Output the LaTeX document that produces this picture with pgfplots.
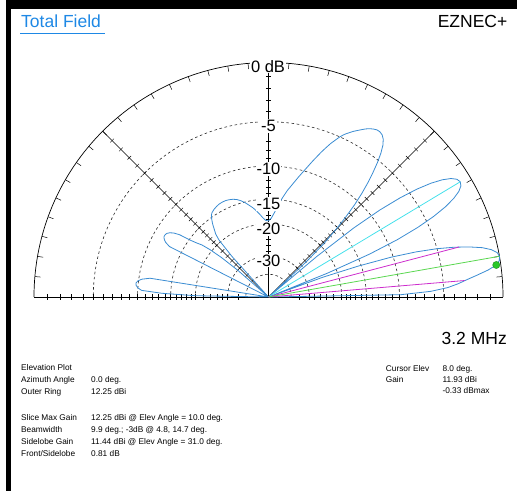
\documentclass[border=0pt]{standalone}
\usepackage{fontspec}
\setmainfont{Liberation Sans}
\usepackage{pgfplots}
\usepackage{pgfplotstable}
\pgfplotsset{compat=1.18}
\definecolor{pat}{RGB}{58,140,210}
\definecolor{ttl}{RGB}{30,136,229}
\definecolor{cyanl}{RGB}{70,225,235}
\definecolor{mag}{RGB}{205,45,205}
\definecolor{grn}{RGB}{90,215,80}
\definecolor{dotc}{RGB}{40,200,40}
\definecolor{ringc}{RGB}{40,40,40}

\pgfplotstableread{
a db
0 -99
1 -9.8
2 -6.3
3 -4.6
4 -3.6
5 -2.8
6 -1.9
7 -1.0
8 -0.33
9 -0.06
10 0
11 -0.12
12 -0.5
13 -1.15
14 -2.15
15 -3.4
16 -5.0
17 -7.2
18 -10.3
19 -15.5
20 -24
21 -99
22 -22.5
23 -13.0
24 -8.7
25 -6.05
26 -4.2
27 -2.87
28 -1.93
29 -1.29
30 -0.93
31 -0.81
32 -0.93
33 -1.29
34 -1.93
35 -2.87
36 -4.2
37 -6.05
38 -8.7
39 -13.0
40 -22.5
41 -99
42 -99
43 -26
44 -19
45 -15.5
46 -12.8
47 -10.6
48 -8.9
49 -7.5
50 -6.3
51 -5.2
52 -4.3
53 -3.6
54 -3.15
55 -2.9
56 -2.8
57 -2.8
58 -2.9
59 -3.05
60 -3.25
61 -3.5
62 -3.75
63 -4.0
64 -4.3
65 -4.6
66 -5.0
67 -5.5
68 -6.0
69 -6.6
70 -7.2
72 -8.5
74 -9.8
76 -11.0
78 -12.2
80 -13.3
82 -14.6
84 -16.0
86 -17.5
88 -18.7
90 -19.3
92 -19.2
94 -18.6
96 -17.8
98 -17.0
100 -16.3
102 -15.7
104 -15.1
106 -14.6
108 -14.2
110 -13.95
112 -13.8
114 -13.7
116 -13.7
118 -13.75
120 -13.9
122 -14.1
124 -14.4
125 -14.7
126 -15.2
127 -15.8
128 -16.5
129 -17.3
130 -18.0
131 -19.5
132 -25
133 -99
138 -99
139 -30
140 -23
141 -19.5
142 -17.5
143 -16.5
144 -15.2
145 -13.2
146 -12.3
147 -11.8
148 -11.5
149 -11.4
150 -11.4
151 -11.6
152 -12.0
153 -12.8
154 -99
170 -99
171 -11.5
172 -10.4
173 -9.9
174 -9.7
175 -9.75
176 -10.0
177 -10.5
178 -13.5
179 -20
180 -99
}\patdata

\begin{document}
\begin{tikzpicture}[x=1pt,y=1pt]
\useasboundingbox (0,0) rectangle (517,491);
% frame bars
\fill[black] (6,482) rectangle (517,491);
\fill[black] (6,0) rectangle (11,491);
% title
\node[anchor=base west, text=ttl, inner sep=0] at (21,463) {\fontsize{17.5}{20}\selectfont Total Field};
\draw[ttl, line width=0.8] (20,457.7) -- (105,457.7);
\node[anchor=base east, inner sep=0] at (507.5,463) {\fontsize{17.5}{20}\selectfont EZNEC+};

% polar grid
\begin{scope}[shift={(268.5,194)}, x=234.5pt, y=234.5pt]
  \foreach \r in {0.7473,0.5584,0.4173,0.3118,0.1741,0.0972}
    \draw[ringc, line width=0.6, dash pattern=on 2.6pt off 2.6pt] (\r,0) arc[start angle=0, end angle=180, radius=\r];
  \draw[black, line width=0.7] (-1,0) -- (1,0);
  \draw[black, line width=0.7] (1,0) arc[start angle=0, end angle=180, radius=1];
  \foreach \t in {5,10,...,175}
    \draw[black, line width=0.5] (\t:1) -- (\t:0.976);
  \draw[black, line width=0.6] (0,0) -- (45:1);
  \draw[black, line width=0.6] (0,0) -- (135:1);
  \draw[black, line width=0.4] (0,0) -- (90:1);
  \foreach \d in {1,2,...,20,22,24,26,28,30,35} {
    \pgfmathsetmacro\rr{0.89^(\d/2)}
    \foreach \t in {0,45,90,135,180}
      \draw[black, line width=0.45] (\t:\rr) ++(\t+90:0.011) -- ++(\t-90:0.022);
  }
\end{scope}

% pattern
\begin{axis}[at={(34pt,194pt)}, anchor=south west, scale only axis,
  width=469pt, height=234.5pt, xmin=-1, xmax=1, ymin=0, ymax=1,
  axis lines=none, clip=false]
\addplot[pat, line width=0.8] table[
  x expr={0.89^(\thisrow{db}/(-2))*cos(\thisrow{a})},
  y expr={0.89^(\thisrow{db}/(-2))*sin(\thisrow{a})}] {\patdata};
\addplot[cyanl, line width=0.8] table {
x y
0 0
0.8177 0.4913
};
\addplot[mag, line width=0.8] table {
x y
0 0
0.8367 0.0703
};
\addplot[mag, line width=0.8] table {
x y
0 0
0.8121 0.2131
};
\addplot[grn, line width=0.8] table {
x y
0 0
0.9848 0.1736
};
\addplot[only marks, mark=*, mark size=3.6pt, mark options={fill=dotc, draw=dotc!70!black, line width=0.4}] table {
x y
0.9714 0.1365
};
\end{axis}

% ring labels
\begin{scope}[every node/.style={fill=white, inner sep=0.8pt, font=\fontsize{16.5}{18}\selectfont}]
  \node at (268,424.5) {0 dB};
  \node at (268.5,365) {-5};
  \node at (268.5,322) {-10};
  \node at (268.5,287) {-15};
  \node at (268.5,262) {-20};
  \node at (268.5,230.5) {-30};
\end{scope}

% frequency
\node[anchor=base east, inner sep=0] at (507,146.7) {\fontsize{17.5}{20}\selectfont 3.2 MHz};

% info text
\begin{scope}[every node/.style={anchor=base west, inner sep=0, font=\fontsize{8.3}{10}\selectfont}]
  \node at (21,121) {Elevation Plot};
  \node at (21,108.7) {Azimuth Angle};
  \node at (91,108.7) {0.0 deg.};
  \node at (21,96.7) {Outer Ring};
  \node at (91,96.7) {12.25 dBi};
  \node at (21,71) {Slice Max Gain};
  \node at (91,71) {12.25 dBi @ Elev Angle = 10.0 deg.};
  \node at (21,58.7) {Beamwidth};
  \node at (91,58.7) {9.9 deg.; -3dB @ 4.8, 14.7 deg.};
  \node at (21,46.7) {Sidelobe Gain};
  \node at (91,46.7) {11.44 dBi @ Elev Angle = 31.0 deg.};
  \node at (21,34.3) {Front/Sidelobe};
  \node at (91,34.3) {0.81 dB};
  \node at (385.7,119.5) {Cursor Elev};
  \node at (442.3,119.5) {8.0 deg.};
  \node at (385.7,108.3) {Gain};
  \node at (442.3,108.3) {11.93 dBi};
  \node at (442.3,97.2) {-0.33 dBmax};
\end{scope}
\end{tikzpicture}
\end{document}
